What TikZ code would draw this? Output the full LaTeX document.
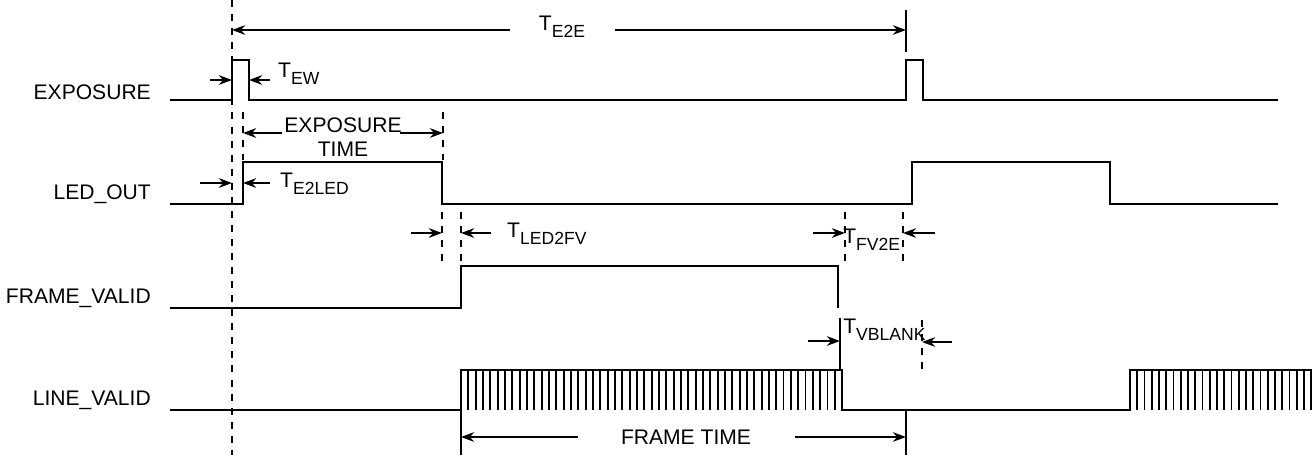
\documentclass[tikz,border=0pt]{standalone}
\usepackage{fontspec}
\setmainfont{Liberation Sans}
\usetikzlibrary{arrows.meta}
\newcommand{\tlab}[1]{T\raisebox{-0.6ex}{\fontsize{10}{12}\selectfont #1}}
\tikzset{
  sig/.style={line width=1.1pt},
  guide/.style={line width=0.8pt, dash pattern=on 4pt off 4pt},
  dim/.style={-{Stealth[length=7.5pt,width=5.5pt]}, line width=1pt},
  sname/.style={anchor=east}
}
\begin{document}
\begin{tikzpicture}[x=0.02cm, y=-0.02cm, font=\fontsize{12}{14}\selectfont]
	\useasboundingbox (0,0) rectangle (1312,458);
	
	% signal names
	\node[sname] (nexp) at (157,92) {EXPOSURE};
	\node[sname] (nled) at (157,194) {LED\_OUT};
	\node[sname] (nfv) at (157,298) {FRAME\_VALID};
	\node[sname] (nlv) at (157,400) {LINE\_VALID};
	
	% waveforms
	\draw[sig] (170,100) -- (232,100) -- (232,60) -- (249,60) -- (249,100) -- (906,100) -- (906,60) -- (923,60) -- (923,100) -- (1278,100);
	\draw[sig] (170,204) -- (243,204) -- (243,162) -- (442,162) -- (442,204) -- (912,204) -- (912,162) -- (1110,162) -- (1110,204) -- (1278,204);
	\draw[sig] (170,308) -- (461,308) -- (461,266) -- (838,266) -- (838,308);
	\draw[sig] (170,410) -- (461,410) -- (461,370) -- (842,370) -- (842,410) -- (1130,410) -- (1130,370) -- (1312,370);
	\foreach \i in {1,...,52} \draw[sig] (461+\i*7.33,370) -- (461+\i*7.33,410);
	\foreach \i in {1,...,25} \draw[sig] (1130+\i*7.25,370) -- (1130+\i*7.25,410);
	
	% T_E2E
	\draw[guide] (232,0) -- (232,455);
	\draw[sig] (906,10) -- (906,52);
	\node (te2e) at (562,27) {\tlab{E2E}};
	\draw[dim] (510,30) -- (232,30);
	\draw[dim] (615,30) -- (906,30);
	
	% T_EW
	\draw[dim] (210,80) -- (232,80);
	\draw[dim] (270,80) -- (249,80);
	\node[anchor=west] (tew) at (272,74) {\tlab{EW}};
	
	% exposure time
	\draw[guide] (243,112) -- (243,160);
	\draw[guide] (443,112) -- (443,160);
	\node[align=center] (texp) at (343,137) {EXPOSURE\\TIME};
	\draw[dim] (282,133) -- (243,133);
	\draw[dim] (400,133) -- (443,133);
	
	% T_E2LED
	\draw[dim] (200,183) -- (232,183);
	\draw[dim] (270,183) -- (243,183);
	\node[anchor=west] (te2led) at (274,184) {\tlab{E2LED}};
	
	% T_LED2FV
	\draw[guide] (442,212) -- (442,262);
	\draw[guide] (461,212) -- (461,262);
	\draw[dim] (411,233) -- (442,233);
	\draw[dim] (491,233) -- (461,233);
	\node[anchor=west] (tled2fv) at (501,234) {\tlab{LED2FV}};
	
	% T_FV2E
	\draw[guide] (845,212) -- (845,262);
	\draw[guide] (903,212) -- (903,262);
	\draw[dim] (813,233) -- (845,233);
	\draw[dim] (935,233) -- (903,233);
	\node[anchor=west, inner sep=0pt] (tfv2e) at (843,240) {\tlab{FV2E}};
	
	% T_VBLANK
	\draw[sig] (840,318) -- (840,370);
	\draw[guide] (922,320) -- (922,372);
	\draw[dim] (808,341) -- (840,341);
	\draw[dim] (952,342) -- (922,342);
	\node[anchor=west, inner sep=0pt] (tvblank) at (843,330) {\tlab{VBLANK}};
	
	% frame time
	\draw[sig] (461,410) -- (461,455);
	\draw[sig] (906,410) -- (906,455);
	\node (tframe) at (686,437) {FRAME TIME};
	\draw[dim] (578,437) -- (461,437);
	\draw[dim] (795,437) -- (906,437);
\end{tikzpicture}
\end{document}
